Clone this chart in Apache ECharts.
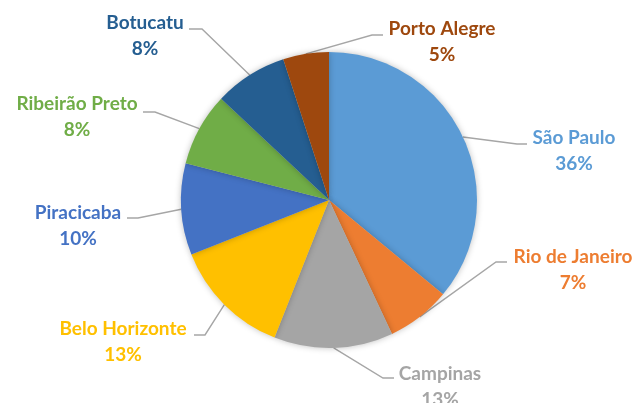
<!DOCTYPE html>
<html>
<head>
<meta charset="utf-8">
<script src="https://cdn.jsdelivr.net/npm/echarts@6/dist/echarts.min.js"></script>
<style>
  html, body { margin: 0; padding: 0; background: #fff; }
  #chart { width: 637px; height: 403px; }
</style>
</head>
<body>
<div id="chart"></div>
<script>
const cities = ['São Paulo', 'Rio de Janeiro', 'Campinas', 'Belo Horizonte', 'Piracicaba', 'Ribeirão Preto', 'Botucatu', 'Porto Alegre'];
const shares = [36, 7, 13, 13, 10, 8, 8, 5];
const colors = ['#5B9BD5', '#ED7D31', '#A5A5A5', '#FFC000', '#4472C4', '#70AD47', '#255E91', '#9E480E'];

// where each label sits (center) and the bend / end of its leader line
const labelSpots = [
  { c: [574, 151], bend: [517, 144], end: [527, 144] },
  { c: [573, 270], bend: [496, 262], end: [507, 262] },
  { c: [440, 387], bend: [383, 378], end: [394, 378] },
  { c: [123, 342], bend: [205, 335], end: [194, 335] },
  { c: [78, 226],  bend: [138, 218], end: [127, 218] },
  { c: [77, 117],  bend: [155, 112], end: [143, 112] },
  { c: [145, 36],  bend: [202, 29],  end: [189, 29] },
  { c: [442, 42],  bend: [372, 35],  end: [383, 35] }
];

const getOption = () => {
  return {
    animation: false,
    series: [{
      type: 'pie',
      center: [329, 200],
      radius: 148,
      startAngle: 90,
      clockwise: true,
      avoidLabelOverlap: false,
      data: cities.map((name, i) => ({
        name: name,
        value: shares[i],
        itemStyle: { color: colors[i] },
        label: { color: colors[i] }
      })),
      itemStyle: {
        borderWidth: 0,
        shadowBlur: 6,
        shadowColor: 'rgba(0,0,0,0.25)'
      },
      label: {
        show: true,
        position: 'outside',
        formatter: '{b}\n{c}%',
        fontFamily: 'Lato',
        fontWeight: 'bold',
        fontSize: 19,
        lineHeight: 26,
        align: 'center'
      },
      labelLine: {
        show: true,
        length: 15,
        length2: 10,
        lineStyle: { color: '#A6A6A6', width: 1.4 }
      },
      labelLayout: (params) => {
        const s = labelSpots[params.dataIndex];
        const start = params.labelLinePoints ? params.labelLinePoints[0] : s.bend;
        return {
          x: s.c[0],
          y: s.c[1],
          align: 'center',
          verticalAlign: 'middle',
          labelLinePoints: [start, s.bend, s.end]
        };
      }
    }]
  };
};

const chart = echarts.init(document.querySelector('#chart'));
chart.setOption(getOption());
</script>
</body>
</html>
